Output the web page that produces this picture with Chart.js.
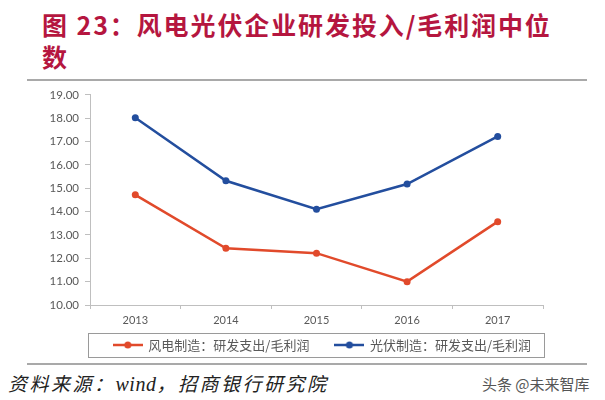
<!DOCTYPE html>
<html>
<head>
<meta charset="utf-8">
<script src="https://cdn.jsdelivr.net/npm/chart.js@4"></script>
<style>
  body { margin: 0; background: #fff; }
  #page { position: relative; width: 605px; height: 400px; overflow: hidden; background: #fff; }
  #title {
    position: absolute; left: 42px; top: 8px;
    font-family: "Noto Sans CJK SC", sans-serif; font-weight: 700;
    font-size: 25px; line-height: 32px; letter-spacing: 1.9px; color: #b5163f;
  }
  .rule { position: absolute; left: 27px; width: 560px; height: 2px; background: #a9a9a9; }
  #chartBox { position: absolute; left: 0; top: 82px; width: 605px; height: 305px; }
  #source {
    position: absolute; left: 8px; top: 369px;
    font-family: "Noto Sans CJK SC", sans-serif; font-style: italic;
    font-size: 19px; letter-spacing: 2.5px; color: #222;
  }
  #source .en { font-family: "Liberation Serif", serif; font-size: 20px; letter-spacing: 0.5px; }
  #mark {
    position: absolute; left: 482px; top: 373px;
    font-family: "Noto Sans CJK SC", sans-serif; font-size: 15px; color: #555;
  }
</style>
</head>
<body>
<div id="page">
  <div id="title">图 23：风电光伏企业研发投入/毛利润中位<br>数</div>
  <div class="rule" style="top:79px"></div>
  <div class="rule" style="top:363px"></div>
  <div id="source">资料来源：<span class="en">wind</span>，招商银行研究院</div>
  <div id="mark">头条 @未来智库</div>
  <div id="chartBox"><canvas id="chart"></canvas></div>
</div>
<script>
const years = ['2013', '2014', '2015', '2016', '2017'];
const windValues = [14.72, 12.43, 12.22, 11.0, 13.57];
const solarValues = [18.02, 15.32, 14.1, 15.18, 17.22];
const seriesNames = ['风电制造：研发支出/毛利润', '光伏制造：研发支出/毛利润'];
const yMin = 10;
const yMax = 19;

const red = '#e14a2b';
const blue = '#234e9e';
const axisGray = '#bfbfbf';
const textGray = '#595959';

// little line-with-dot swatch for the legend
function swatch(color) {
    const c = document.createElement('canvas');
    c.width = 30;
    c.height = 8;
    const g = c.getContext('2d');
    g.strokeStyle = color;
    g.lineWidth = 2.5;
    g.beginPath();
    g.moveTo(0, 4);
    g.lineTo(30, 4);
    g.stroke();
    g.fillStyle = color;
    g.beginPath();
    g.arc(15, 4, 3.5, 0, Math.PI * 2);
    g.fill();
    return c;
}
const swatches = [swatch(red), swatch(blue)];

// legend padding is wide (for the gap between items), so pull it up after layout
const legendShift = {
    id: 'legendShift',
    afterLayout(chart) {
        const lg = chart.legend;
        if (!lg) return;
        lg.top -= 22.5;
        lg.bottom -= 22.5;
    }
};

// frame around the legend
const legendFrame = {
    id: 'legendFrame',
    afterDraw(chart) {
        const boxes = chart.legend.legendHitBoxes;
        if (!boxes || !boxes.length) return;
        const left = Math.min(...boxes.map(b => b.left)) - 26;
        const right = Math.max(...boxes.map(b => b.left + b.width)) + 13;
        const mid = boxes[0].top + boxes[0].height / 2;
        const ctx = chart.ctx;
        ctx.save();
        ctx.strokeStyle = '#9a9a9a';
        ctx.lineWidth = 1;
        ctx.strokeRect(Math.round(left) + 0.5, Math.round(mid - 12) + 0.5, Math.round(right - left), 24);
        ctx.restore();
    }
};

const ctx = document.getElementById('chart').getContext('2d');
new Chart(ctx, {
    type: 'line',
    data: {
        labels: years,
        datasets: [{
            label: seriesNames[0],
            data: windValues,
            borderColor: red,
            backgroundColor: red,
            borderWidth: 2.5,
            pointRadius: 3.5,
            pointBorderWidth: 0,
            tension: 0
        }, {
            label: seriesNames[1],
            data: solarValues,
            borderColor: blue,
            backgroundColor: blue,
            borderWidth: 2.5,
            pointRadius: 3.5,
            pointBorderWidth: 0,
            tension: 0
        }]
    },
    options: {
        responsive: true,
        maintainAspectRatio: false,
        animation: false,
        layout: { padding: { left: 0, right: 48, top: 10.7, bottom: 3 } },
        scales: {
            x: {
                offset: true,
                grid: { drawOnChartArea: false, color: axisGray, tickLength: 4, offset: true },
                border: { color: axisGray, width: 1 },
                ticks: { color: textGray, padding: 5, font: { family: 'Lato', size: 11 } },
                afterFit: s => { s.height = 30; }
            },
            y: {
                min: yMin,
                max: yMax,
                grid: { drawOnChartArea: false, color: axisGray, tickLength: 5 },
                border: { color: axisGray, width: 1 },
                ticks: {
                    stepSize: 1,
                    color: textGray,
                    padding: 6,
                    font: { family: 'Lato', size: 11.5 },
                    callback: v => v.toFixed(2)
                },
                afterFit: s => { s.width = 90; }
            },
            // empty axis on the right, only to keep the legend lined up
            spacer: {
                type: 'linear',
                position: 'right',
                display: true,
                grid: { display: false },
                border: { display: false },
                ticks: { display: false },
                afterFit: s => { s.width = 14; }
            }
        },
        plugins: {
            legend: {
                position: 'bottom',
                align: 'end',
                labels: {
                    usePointStyle: true,
                    pointStyleWidth: 28,
                    padding: 26,
                    color: textGray,
                    font: { family: 'Noto Sans CJK SC', size: 13 },
                    generateLabels: chart => {
                        const items = Chart.defaults.plugins.legend.labels.generateLabels(chart);
                        items.forEach((it, i) => { it.pointStyle = swatches[i]; });
                        return items;
                    }
                }
            },
            tooltip: { enabled: false }
        }
    },
    plugins: [legendShift, legendFrame]
});
</script>
</body>
</html>
